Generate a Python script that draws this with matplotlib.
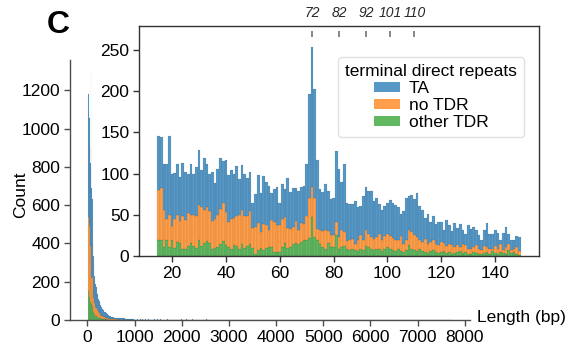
import numpy as np
import matplotlib
matplotlib.use("Agg")
import matplotlib.pyplot as plt
from matplotlib.colors import to_rgba
from matplotlib.transforms import blended_transform_factory

plt.rcParams['font.family'] = ['Liberation Sans', 'DejaVu Sans']
plt.rcParams['font.size'] = 12

# ---- short elements, 1-bp resolution (15-149 bp) ----
lengths = np.arange(15, 150)
ta_counts = [65, 61, 56, 67, 95, 63, 56, 62, 54, 64,
             58, 48, 62, 50, 59, 66, 44, 63, 52, 46,
             60, 43, 55, 62, 51, 64, 57, 59, 53, 60,
             44, 54, 52, 47, 48, 30, 40, 58, 48, 58,
             52, 53, 33, 40, 47, 26, 42, 34, 61, 45,
             48, 41, 47, 44, 46, 63, 126, 170, 132, 83,
             50, 48, 56, 49, 44, 45, 86, 82,
             58, 83, 46, 44, 42, 52, 40, 36, 54, 52,
             52, 56, 46, 47, 36, 37, 37, 37, 44, 42,
             43, 39, 27, 40, 51, 42, 45, 44, 54, 42,
             39, 25, 36, 24, 28, 24, 28, 24, 16, 32,
             22, 17, 29, 21, 28, 16, 14, 29, 25, 24,
             19, 16, 13, 19, 29, 18, 19, 20, 19, 6,
             21, 24, 13, 13, 10, 13, 17]
no_tdr_counts = [61, 64, 45, 26, 39, 17, 35, 33, 26, 41,
                 35, 40, 34, 38, 39, 43, 48, 40, 42, 38,
                 34, 35, 39, 43, 46, 40, 30, 37, 33, 37,
                 41, 41, 38, 36, 39, 24, 32, 33, 19, 32,
                 28, 21, 33, 36, 32, 33, 34, 31, 24, 22,
                 20, 26, 18, 23, 20, 30, 48, 37, 47, 13,
                 16, 19, 22, 14, 14, 14, 16, 14,
                 21, 17, 9, 12, 13, 8, 13, 16, 12, 20,
                 16, 15, 14, 14, 19, 13, 16, 16, 15, 15,
                 13, 12, 18, 10, 12, 18, 20, 18, 17, 11,
                 11, 16, 11, 11, 13, 10, 9, 12, 10, 8,
                 10, 10, 7, 8, 5, 11, 8, 7, 6, 6,
                 9, 6, 5, 8, 6, 6, 2, 8, 6, 9,
                 3, 8, 7, 3, 4, 9, 5]
other_tdr_counts = [19, 19, 11, 19, 11, 19, 10, 17, 16, 8,
                    9, 12, 16, 12, 10, 19, 12, 16, 18, 16,
                    8, 10, 11, 14, 18, 13, 11, 8, 13, 12,
                    9, 15, 10, 12, 15, 10, 3, 7, 10, 7,
                    10, 11, 11, 5, 5, 5, 11, 16, 10, 11,
                    15, 16, 14, 17, 19, 19, 22, 47, 23, 20,
                    15, 11, 9, 16, 11, 11, 25, 9,
                    11, 12, 9, 7, 8, 7, 6, 9, 7, 12,
                    11, 8, 7, 9, 8, 6, 8, 11, 9, 7,
                    6, 8, 6, 5, 7, 13, 9, 7, 6, 8,
                    6, 5, 4, 6, 7, 5, 4, 5, 6, 4,
                    5, 3, 4, 5, 6, 4, 5, 2, 2, 5,
                    4, 3, 2, 4, 5, 3, 6, 4, 3, 5,
                    4, 3, 7, 4, 5, 2, 1]

# ---- longer elements, counts per 10-bp step (150-990 bp) ----
tail_lengths = np.arange(150, 1000, 10)
tail_ta = [75, 125, 118, 108, 106, 92, 88, 84, 72, 70,
           63, 61, 55, 53, 47, 46, 42, 40, 39, 34,
           33, 30, 28, 28, 25, 24, 22, 22, 20, 18,
           18, 17, 16, 15, 14, 13, 13, 12, 13, 11,
           10, 11, 10, 9, 10, 8,
           9, 10, 8, 9, 7, 9, 8, 7, 8, 6,
           7, 7, 6, 8, 5, 6, 6, 5, 7, 5,
           6, 4, 5, 6, 5, 4, 5, 5, 4, 6,
           4, 4, 5, 3, 4, 4, 3, 4, 3]
tail_no_tdr = [28, 55, 48, 47, 45, 40, 34, 33, 28, 27,
               24, 22, 21, 19, 17, 16, 15, 13, 13, 11,
               11, 10, 9, 8, 8, 8, 6, 7, 6, 6,
               5, 4, 4, 4, 4, 4, 3, 3, 3, 3,
               3, 3, 2, 2, 2, 2,
               2, 1, 2, 2, 1, 2, 1, 1, 2, 1,
               1, 2, 1, 1, 1, 1, 2, 1, 1, 1,
               0, 1, 1, 1, 0, 1, 1, 0, 1, 1,
               0, 1, 0, 1, 1, 0, 1, 0, 1]
tail_other = [12, 25, 22, 21, 19, 16, 16, 14, 12, 12,
              10, 10, 8, 8, 7, 7, 6, 6, 5, 5,
              5, 4, 4, 4, 3, 3, 3, 2, 2, 2,
              2, 2, 2, 1, 2, 1, 2, 1, 1, 1,
              1, 1, 1, 1, 1, 1,
              1, 1, 0, 1, 1, 0, 1, 1, 0, 1,
              0, 1, 0, 1, 0, 1, 0, 1, 0, 0,
              1, 0, 0, 1, 0, 0, 1, 0, 0, 1,
              0, 0, 0, 1, 0, 0, 0, 1, 0]

# ---- sparse long tail (> 1 kb) ----
far_lengths = [1010, 1060, 1120, 1170, 1230, 1290, 1350, 1420, 1480, 1550,
               1610, 1700, 1790, 1880, 1990, 2100, 2230, 2370, 2520, 2680,
               2850, 3040, 3230, 3450, 3680, 3920, 4170, 4430, 4700, 4990,
               5290, 5600, 5920, 6250, 6590, 6940, 7300, 7710]
far_ta = [4, 3, 5, 3, 4, 3, 4, 2, 3, 5, 2, 3, 2, 3, 2, 2, 2, 1, 2, 1,
          2, 1, 2, 1, 1, 2, 1, 1, 1, 1, 1, 1, 1, 1, 1, 1, 1, 1]
far_no_tdr = [1, 0, 1, 1, 0, 1, 0, 1, 0, 1, 0, 1, 0, 0, 1, 0, 1, 0, 0, 1,
              0, 0, 1, 0, 0, 0, 1, 0, 0, 1, 0, 0, 0, 1, 0, 0, 0, 0]
far_other = [0, 1, 0, 0, 1, 0, 0, 0, 1, 0, 0, 0, 1, 0, 0, 1, 0, 0, 1, 0,
             0, 1, 0, 0, 1, 0, 0, 0, 1, 0, 0, 1, 0, 0, 0, 1, 0, 0]

categories = ['TA', 'no TDR', 'other TDR']
base_colors = ['#1f77b4', '#ff7f0e', '#2ca02c']
annot_lengths = [72, 82, 92, 101, 110]

fill = [to_rgba(c, 0.75) for c in base_colors]

fig = plt.figure(figsize=(5.71, 3.51), dpi=100)

# ---------------- main histogram ----------------
ax = fig.add_axes([70 / 571, 31 / 351, 400 / 571, 260 / 351])
all_x = np.concatenate([lengths, tail_lengths, far_lengths])
w_ta = np.concatenate([ta_counts, tail_ta, far_ta])
w_no = np.concatenate([no_tdr_counts, tail_no_tdr, far_no_tdr])
w_ot = np.concatenate([other_tdr_counts, tail_other, far_other])
bins = np.arange(15, 7726, 10)
# stacked from bottom: other TDR, no TDR, TA
ax.hist([all_x, all_x, all_x], bins=bins, weights=[w_ot, w_no, w_ta],
        stacked=True, histtype='bar', rwidth=1.0,
        color=[fill[2], fill[1], fill[0]], edgecolor=(0, 0, 0, 0.5), linewidth=0.05)
ax.set_xticks(np.arange(0, 8001, 1000))
ax.set_yticks(np.arange(0, 1201, 200))
for s in ['top', 'right']:
    ax.spines[s].set_visible(False)
for s in ['left', 'bottom']:
    ax.spines[s].set_color('0.3')
    ax.spines[s].set_linewidth(1.0)
ax.tick_params(direction='out', length=4.5, width=1, color='0.3', labelsize=12.5, pad=2.5)
ax.set_ylabel('Count', fontsize=12.5)
ax.yaxis.set_label_coords(-0.104, 0.48)
ax.set_xlabel('Length (bp)', fontsize=12.5, ha='left', va='center')
ax.xaxis.set_label_coords(1.017, 0.01)

# ---------------- inset: 15-149 bp ----------------
axi = fig.add_axes([139 / 571, 95 / 351, 400 / 571, 230 / 351])
ibins = np.arange(14.5, 150.5, 1)
axi.hist([lengths, lengths, lengths], bins=ibins,
         weights=[other_tdr_counts, no_tdr_counts, ta_counts],
         stacked=True, histtype='bar', rwidth=1.0,
         color=[fill[2], fill[1], fill[0]], edgecolor=(0, 0, 0, 0.25), linewidth=0.2)
axi.set_ylim(0, 279)
axi.set_xticks(np.arange(20, 141, 20))
axi.set_yticks(np.arange(0, 251, 50))
for s in axi.spines.values():
    s.set_color('0.2')
    s.set_linewidth(1.0)
axi.tick_params(direction='out', length=4.5, width=1, color='0.2', labelsize=12.5, pad=2.5)

# annotated repeat lengths above the inset
tr = blended_transform_factory(axi.transData, axi.transAxes)
for v in annot_lengths:
    axi.plot([v, v], [0.951, 0.98], transform=tr, color='0.45', lw=1.2,
             clip_on=False, solid_capstyle='butt')
    axi.text(v, 1.058, str(v), transform=tr, ha='center', va='center',
             fontsize=10, fontstyle='italic', color='0.15')

handles = [plt.Rectangle((0, 0), 1, 1, facecolor=f, edgecolor='none') for f in fill]
leg = axi.legend(handles, categories, title='terminal direct repeats',
                 loc='upper right', bbox_to_anchor=(0.9625, 0.865),
                 borderaxespad=0, fontsize=12.5, title_fontsize=12.5,
                 handlelength=1.5, handleheight=0.5, labelspacing=0.12,
                 handletextpad=0.5, borderpad=0.4, frameon=True, fancybox=True)
leg.get_frame().set_edgecolor('0.85')
leg.get_frame().set_linewidth(1.0)

fig.text(58 / 571, 1 - 25 / 351, 'C', ha='center', va='center',
         fontsize=23, fontweight='bold')

fig.savefig('out.png', dpi=100)
